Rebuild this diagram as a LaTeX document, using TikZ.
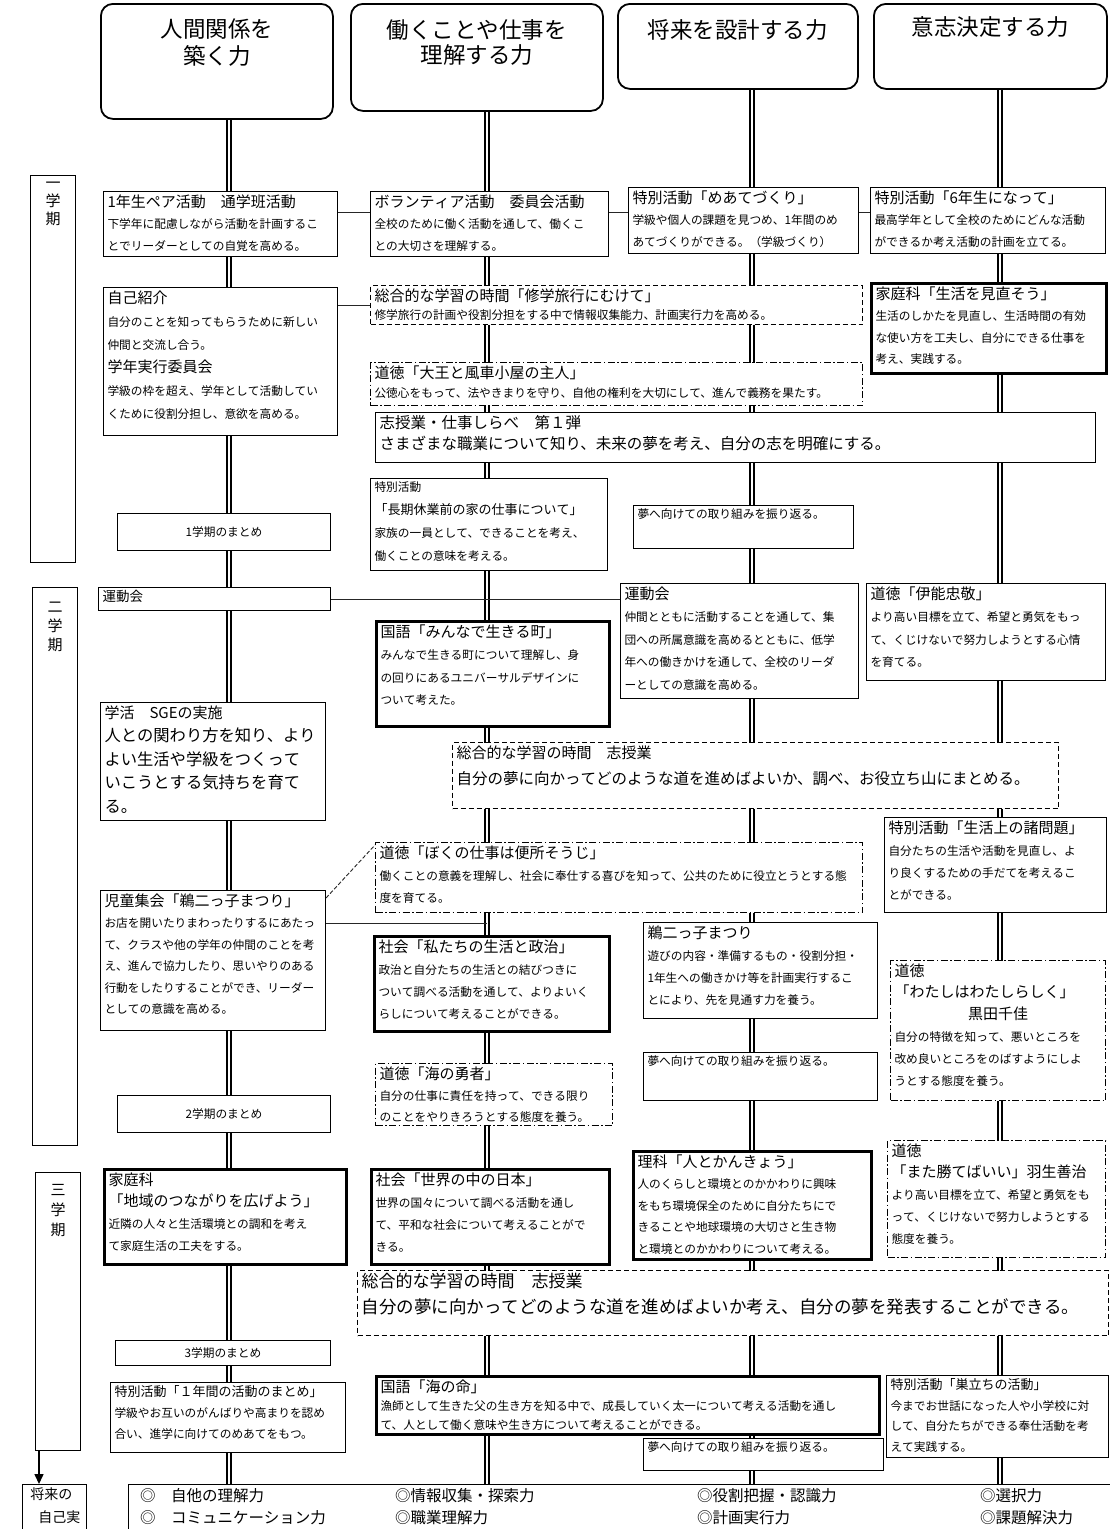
\documentclass[tikz,border=0pt]{standalone}
\usepackage{fontspec}
\setmainfont{Noto Sans CJK JP}
\XeTeXlinebreaklocale "ja"
\XeTeXlinebreakskip=0pt plus 1pt
\usetikzlibrary{calc,arrows.meta,backgrounds}
\newcommand\fsz[2]{\fontsize{#1}{#2}\selectfont}
\newcommand\smtx{\fsz{11.7}{21.5}}
\newcommand\tltx{\fsz{15}{21.5}}
\newcommand\mdtx{\fsz{13}{21.5}}
\newcommand\mkbox[7]{\node[#2, anchor=north west, inner xsep=4pt, inner ysep=3pt] (#1) at (#3,#4)
  {\parbox[c][\dimexpr #6pt-#4pt-6pt\relax][t]{\dimexpr #5pt-#3pt-8pt\relax}{\raggedright #7}};}
\newcommand\mkcbox[7]{\node[#2, anchor=north west, inner xsep=4pt, inner ysep=3pt] (#1) at (#3,#4)
  {\parbox[c][\dimexpr #6pt-#4pt-6pt\relax][c]{\dimexpr #5pt-#3pt-8pt\relax}{\centering #7}};}
\begin{document}
\begin{tikzpicture}[x=1pt,y=-1pt,
  bx/.style={draw, fill=white, line width=1pt},
  thk/.style={draw, fill=white, line width=3pt},
  dsh/.style={draw, fill=white, line width=1pt, dash pattern=on 5pt off 3pt},
  ddt/.style={draw, fill=white, line width=1pt, dash pattern=on 7pt off 2.5pt on 1.5pt off 2.5pt},
  hdr/.style={draw, fill=white, line width=1.8pt, rounded corners=12pt},
  dline/.style={double, double distance=2.5pt, line width=1.8pt},
  conn/.style={line width=0.9pt, black!85},
  term/.style={draw, fill=white, line width=1.4pt}]
\useasboundingbox (0,0) rectangle (1110,1529);

% headers
\node[hdr, anchor=north west, minimum width=232, minimum height=115] (H1) at (100,3) {};
\node[hdr, anchor=north west, minimum width=252, minimum height=107] (H2) at (350,3) {};
\node[hdr, anchor=north west, minimum width=240, minimum height=85] (H3) at (617,3) {};
\node[hdr, anchor=north west, minimum width=233, minimum height=85] (H4) at (873,3) {};
\node[font={\fsz{22.5}{27}}, align=center, anchor=north, inner sep=0] (H1t) at ([yshift=-16pt]H1.north) {人間関係を\\築く力};
\node[font={\fsz{22.5}{25}}, align=center, anchor=north, inner sep=0] (H2t) at ([yshift=-16pt]H2.north) {働くことや仕事を\\理解する力};
\node[font={\fsz{22.5}{27}}, align=center, anchor=north, inner sep=0] (H3t) at ([yshift=-16pt]H3.north) {将来を設計する力};
\node[font={\fsz{22.5}{27}}, align=center, anchor=north, inner sep=0] (H4t) at ([yshift=-13pt]H4.north) {意志決定する力};

% term labels
\node[term, anchor=north west, minimum width=45, minimum height=387] (T1) at (30,175) {};
\node[term, anchor=north west, minimum width=45, minimum height=558] (T2) at (32,587) {};
\node[term, anchor=north west, minimum width=45, minimum height=278] (T3) at (35,1172) {};
\node[font={\fsz{15}{18}}, align=center, anchor=north, inner sep=0] (T1l) at ([yshift=-7pt]T1.north) {一\\学\\期};
\node[font={\fsz{15}{19}}, align=center, anchor=north, inner sep=0] (T2l) at ([yshift=-15pt]T2.north) {二\\学\\期};
\node[font={\fsz{15}{20}}, align=center, anchor=north, inner sep=0] (T3l) at ([yshift=-12pt]T3.north) {三\\学\\期};

% first term
\mkbox{A1}{bx}{103}{191}{337}{256}{\tltx 1年生ペア活動　通学班活動\par\smtx 下学年に配慮しながら活動を計画するこ\\とでリーダーとしての自覚を高める。}
\mkbox{A2}{bx}{370}{191}{608}{256}{\tltx ボランティア活動　委員会活動\par\smtx 全校のために働く活動を通して、働くこ\\との大切さを理解する。}
\mkbox{A3}{bx}{628}{187}{858}{253}{\tltx 特別活動「めあてづくり」\par\smtx 学級や個人の課題を見つめ、1年間のめ\\あてづくりができる。（学級づくり）}
\mkbox{A4}{bx}{870}{187}{1105}{253}{\tltx 特別活動「6年生になって」\par\smtx 最高学年として全校のためにどんな活動\\ができるか考え活動の計画を立てる。}
\mkbox{B1}{bx}{103}{287}{337}{435}{\fsz{15}{23}自己紹介\par\fsz{11.7}{23}自分のことを知ってもらうために新しい\\仲間と交流し合う。\par\fsz{15}{23}学年実行委員会\par\fsz{11.7}{23}学級の枠を超え、学年として活動してい\\くために役割分担し、意欲を高める。}
\mkbox{B2}{dsh}{370}{285}{862}{324}{\tltx 総合的な学習の時間「修学旅行にむけて」\par\fsz{11.7}{18.5}修学旅行の計画や役割分担をする中で情報収集能力、計画実行力を高める。}
\mkbox{B3}{thk}{870}{282}{1105}{372}{\tltx 家庭科「生活を見直そう」\par\smtx 生活のしかたを見直し、生活時間の有効\\な使い方を工夫し、自分にできる仕事を\\考え、実践する。}
\mkbox{B4}{ddt}{370}{362}{862}{405}{\tltx 道徳「大王と風車小屋の主人」\par\fsz{11.7}{19}公徳心をもって、法やきまりを守り、自他の権利を大切にして、進んで義務を果たす。}
\mkbox{B5}{bx}{375}{412}{1095}{462}{\fsz{15.5}{21}志授業・仕事しらべ　第１弾\par さまざまな職業について知り、未来の夢を考え、自分の志を明確にする。}
\mkbox{C1}{bx}{370}{478}{607}{570}{\fsz{11.7}{23}特別活動\par\fsz{13}{23}「長期休業前の家の仕事について」\par\fsz{11.7}{23}家族の一員として、できることを考え、\\働くことの意味を考える。}
\mkcbox{C2}{bx}{117}{513}{330}{550}{\smtx 1学期のまとめ}
\mkbox{C3}{bx}{633}{505}{853}{548}{\smtx 夢へ向けての取り組みを振り返る。}

% second term
\mkbox{D1}{bx}{98}{587}{330}{610}{\fsz{13.5}{16}運動会}
\mkbox{D2}{bx}{620}{583}{858}{698}{\tltx 運動会\par\fsz{11.7}{22.5}仲間とともに活動することを通して、集\\団への所属意識を高めるとともに、低学\\年への働きかけを通して、全校のリーダ\\ーとしての意識を高める。}
\mkbox{D3}{bx}{866}{583}{1105}{680}{\tltx 道徳「伊能忠敬」\par\fsz{11.7}{22.5}より高い目標を立て、希望と勇気をもっ\\て、くじけないで努力しようとする心情\\を育てる。}
\mkbox{D4}{thk}{375}{620}{608}{725}{\tltx 国語「みんなで生きる町」\par\fsz{11.7}{22.5}みんなで生きる町について理解し、身\\の回りにあるユニバーサルデザインに\\ついて考えた。}
\mkbox{D5}{bx}{100}{702}{325}{820}{\tltx 学活　SGEの実施\par\fsz{16.3}{23.5}人との関わり方を知り、より\\よい生活や学級をつくって\\いこうとする気持ちを育て\\る。}
\mkbox{D6}{dsh}{452}{742}{1058}{808}{\tltx 総合的な学習の時間　志授業\par\fsz{15.5}{26}自分の夢に向かってどのような道を進めばよいか、調べ、お役立ち山にまとめる。}
\mkbox{D7}{bx}{884}{817}{1106}{912}{\tltx 特別活動「生活上の諸問題」\par\fsz{11.7}{22}自分たちの生活や活動を見直し、よ\\り良くするための手だてを考えるこ\\とができる。}
\mkbox{D8}{ddt}{375}{842}{862}{912}{\tltx 道徳「ぼくの仕事は便所そうじ」\par\fsz{11.7}{22}働くことの意義を理解し、社会に奉仕する喜びを知って、公共のために役立とうとする態\\度を育てる。}
\mkbox{D9}{bx}{100}{890}{325}{1030}{\tltx 児童集会「鵜二っ子まつり」\par\fsz{11.7}{21.5}お店を開いたりまわったりするにあたっ\\て、クラスや他の学年の仲間のことを考\\え、進んで協力したり、思いやりのある\\行動をしたりすることができ、リーダー\\としての意識を高める。}
\mkbox{D10}{thk}{373}{935}{608}{1030}{\tltx 社会「私たちの生活と政治」\par\fsz{11.7}{22}政治と自分たちの生活との結びつきに\\ついて調べる活動を通して、よりよいく\\らしについて考えることができる。}
\mkbox{D11}{bx}{643}{922}{877}{1018}{\tltx 鵜二っ子まつり\par\fsz{11.7}{22}遊びの内容・準備するもの・役割分担・\\1年生への働きかけ等を計画実行するこ\\とにより、先を見通す力を養う。}
\mkbox{D12}{ddt}{890}{960}{1105}{1100}{\tltx 道徳\par\tltx 「わたしはわたしらしく」\par{\centering\tltx 黒田千佳\par}\fsz{11.7}{22}自分の特徴を知って、悪いところを\\改め良いところをのばすようにしよ\\うとする態度を養う。}
\mkbox{D13}{ddt}{375}{1063}{612}{1125}{\tltx 道徳「海の勇者」\par\fsz{11.7}{21}自分の仕事に責任を持って、できる限り\\のことをやりきろうとする態度を養う。}
\mkbox{D14}{bx}{643}{1052}{877}{1100}{\smtx 夢へ向けての取り組みを振り返る。}
\mkcbox{D15}{bx}{117}{1095}{330}{1132}{\smtx 2学期のまとめ}

% third term
\mkbox{E1}{thk}{103}{1168}{345}{1263}{\tltx 家庭科\par\tltx 「地域のつながりを広げよう」\par\fsz{11.7}{22}近隣の人々と生活環境との調和を考え\\て家庭生活の工夫をする。}
\mkbox{E2}{thk}{370}{1168}{608}{1263}{\tltx 社会「世界の中の日本」\par\fsz{11.7}{22}世界の国々について調べる活動を通し\\て、平和な社会について考えることがで\\きる。}
\mkbox{E3}{thk}{632}{1150}{870}{1258}{\tltx 理科「人とかんきょう」\par\fsz{11.7}{21.5}人のくらしと環境とのかかわりに興味\\をもち環境保全のために自分たちにで\\きることや地球環境の大切さと生き物\\と環境とのかかわりについて考える。}
\mkbox{E4}{ddt}{887}{1140}{1105}{1257}{\tltx 道徳\par\tltx 「また勝てばいい」羽生善治\par\fsz{11.7}{22}より高い目標を立て、希望と勇気をも\\って、くじけないで努力しようとする\\態度を養う。}
\mkbox{E5}{dsh}{357}{1270}{1108}{1335}{\fsz{17}{26}総合的な学習の時間　志授業\par\fsz{17.5}{26}自分の夢に向かってどのような道を進めばよいか考え、自分の夢を発表することができる。}
\mkcbox{E6}{bx}{115}{1340}{330}{1365}{\smtx 3学期のまとめ}
\mkbox{E7}{thk}{375}{1375}{878}{1433}{\tltx 国語「海の命」\par\fsz{11.7}{18.5}漁師として生きた父の生き方を知る中で、成長していく太一について考える活動を通し\\て、人として働く意味や生き方について考えることができる。}
\mkbox{E8}{bx}{886}{1375}{1108}{1457}{\mdtx 特別活動「巣立ちの活動」\par\fsz{11.7}{20.5}今までお世話になった人や小学校に対\\して、自分たちができる奉仕活動を考\\えて実践する。}
\mkbox{E9}{bx}{110}{1382}{345}{1452}{\mdtx 特別活動「１年間の活動のまとめ」\par\fsz{11.7}{21}学級やお互いのがんばりや高まりを認め\\合い、進学に向けてのめあてをもつ。}
\mkbox{E10}{bx}{643}{1438}{883}{1470}{\smtx 夢へ向けての取り組みを振り返る。}

% bottom
\node[bx, line width=1.4pt, anchor=north west, minimum width=985, minimum height=55] (F) at (128,1484) {};
\node[anchor=north west, align=left, font={\fsz{15.5}{22}}, inner sep=0] (F1) at (140,1488) {◎　自他の理解力\\◎　コミュニケーション力};
\node[anchor=north west, align=left, font={\fsz{15.5}{22}}, inner sep=0] (F2) at (395,1488) {◎情報収集・探索力\\◎職業理解力};
\node[anchor=north west, align=left, font={\fsz{15.5}{22}}, inner sep=0] (F3) at (697,1488) {◎役割把握・認識力\\◎計画実行力};
\node[anchor=north west, align=left, font={\fsz{15.5}{22}}, inner sep=0] (F4) at (980,1488) {◎選択力\\◎課題解決力};
\mkbox{FU}{bx}{22}{1484}{86}{1545}{\fsz{14}{23}\hspace*{4pt}将来の\\\hspace*{12pt}自己実}

\coordinate (ar1) at ([xshift=4pt]T3.south west);
\draw[line width=1.5pt, -{Triangle[length=10pt,width=9pt]}] (ar1) -- (ar1 |- FU.north);

\begin{scope}[on background layer]
\fill[white] (0,0) rectangle (1110,1529);
\coordinate (k1) at (229,0);
\coordinate (k2) at (487,0);
\coordinate (k3) at (752,0);
\coordinate (k4) at (1000,0);
\draw[dline] (H1.south -| k1) -- (F.north -| k1);
\draw[dline] (H2.south -| k2) -- (F.north -| k2);
\draw[dline] (H3.south -| k3) -- (F.north -| k3);
\draw[dline] (H4.south -| k4) -- (F.north -| k4);
\path ($(A1.north east)!.32!(A1.south east)$) coordinate (a12);
\draw[conn] (a12) -- (a12 -| A2.west);
\path ($(A2.north east)!.32!(A2.south east)$) coordinate (a23);
\draw[conn] (a23) -- (a23 -| A3.west);
\draw[conn] (a23 -| A3.east) -- (a23 -| A4.west);
\draw[conn] (B2.west) -- (B2.west -| B1.east);
\draw[conn] ([xshift=-6pt]D1.east) -- (D1.east -| D2.west);
\draw[conn, dash pattern=on 4pt off 2pt] ([yshift=-8pt]D9.north east) -- ([yshift=-3pt]D8.north west);
\path ($(D9.north east)!.235!(D9.south east)$) coordinate (d9c);
\draw[conn] (d9c) -- (d9c -| k2);
\end{scope}
\end{tikzpicture}
\end{document}
